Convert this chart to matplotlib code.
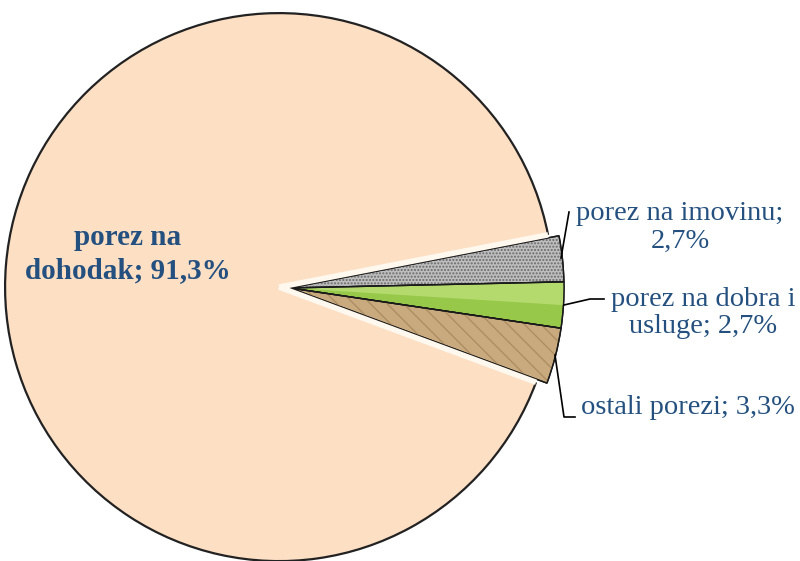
import numpy as np
import matplotlib.pyplot as plt
from matplotlib.patches import Arc, Wedge

# data (udjeli poreza, %)
kategorije = ['porez na imovinu', 'porez na dobra i usluge', 'ostali porezi', 'porez na dohodak']
udjeli = [2.7, 2.7, 3.3, 91.3]
oznake = ['porez na imovinu;\n2,7%', 'porez na dobra i\nusluge; 2,7%',
          'ostali porezi; 3,3%', 'porez na\ndohodak; 91,3%']
boje = ['#BEBEBE', '#98C84A', '#C9AA7E', '#FDDFC4']

plt.rcParams['font.family'] = ['Liberation Serif', 'DejaVu Serif']
txtcol = '#24507F'

fig = plt.figure(figsize=(8, 5.61), dpi=100)
ax = fig.add_axes([0, 0, 1, 1])

cx, cy, r = 290, 273, 274
# explode u pikselima (pie ga dodaje izravno u jedinicama podataka)
wedges, _ = ax.pie(udjeli, colors=boje, startangle=11, counterclock=False,
                   center=(cx, cy), radius=r, explode=[0, 0, 0, 0.04 * r],
                   wedgeprops=dict(edgecolor='#1a1a1a', linewidth=1.0),
                   frame=True)
ax.set_xlim(0, 800)
ax.set_ylim(0, 561)
ax.set_aspect('equal')
ax.axis('off')

# tekstura / sjencanje malih isjecaka
def sloj(w, fc='none', ec='none', hatch=None, frac=1.0, lw=0):
    t2 = w.theta2
    t1 = w.theta2 - (w.theta2 - w.theta1) * frac
    p = Wedge(w.center, w.r, t1, t2, facecolor=fc, edgecolor=ec, hatch=hatch,
              linewidth=lw, zorder=w.get_zorder() + 0.1)
    ax.add_patch(p)
    return p

sloj(wedges[0], ec='#6a6a6a', hatch='.....')
sloj(wedges[1], fc='#B4DA6E', frac=0.5)
sloj(wedges[2], ec='#AD8D62', hatch='\\\\')
for w in wedges[:3]:
    ax.add_patch(Wedge(w.center, w.r, w.theta1, w.theta2, facecolor='none',
                       edgecolor='#1a1a1a', linewidth=1.0, zorder=w.get_zorder() + 0.2))

# veliki isjecak: bez crnih rubova na rezu, samo vanjski luk
big = wedges[3]
big.set_edgecolor('none')
bx, by = big.center
ax.add_patch(Arc((bx, by), 2 * big.r, 2 * big.r, theta1=big.theta1, theta2=big.theta2,
                 color='#222222', lw=1.6, zorder=3))
for ang in (big.theta1, big.theta2):
    t = np.deg2rad(ang)
    ax.plot([bx, bx + big.r * np.cos(t)], [by, by + big.r * np.sin(t)],
            color='#FFF8EE', lw=4, solid_capstyle='butt', zorder=3)

# oznaka velikog isjecka
ax.text(128, 561 - 254, oznake[3], ha='center', va='center', fontsize=21,
        fontweight='bold', color=txtcol, linespacing=1.3)

# oznake malih isjecaka s linijama
ax.text(680, 561 - 227, oznake[0], ha='center', va='center', fontsize=20.5,
        color=txtcol, linespacing=1.15)
ax.plot([561, 569], [561 - 258, 561 - 212], color='black', lw=1.2)

ax.text(703, 561 - 313, oznake[1], ha='center', va='center', fontsize=20.5,
        color=txtcol, linespacing=1.1)
ax.plot([564, 590, 604], [561 - 305, 561 - 299, 561 - 299], color='black', lw=1.2)

ax.text(688, 561 - 408, oznake[2], ha='center', va='center', fontsize=20.5,
        color=txtcol)
ax.plot([555, 564, 575], [561 - 355, 561 - 417, 561 - 417], color='black', lw=1.2)

fig.savefig('out.png', dpi=100)
